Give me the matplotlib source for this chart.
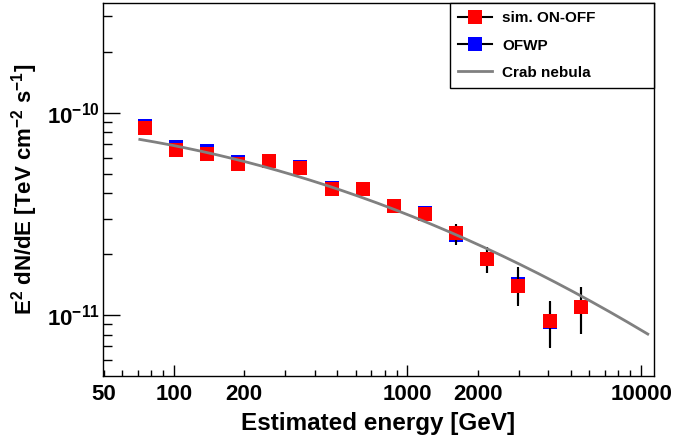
import numpy as np
import matplotlib
matplotlib.use("Agg")
import matplotlib.pyplot as plt
from matplotlib.ticker import FixedLocator, FuncFormatter, NullFormatter
from matplotlib.lines import Line2D

plt.rcParams['font.family'] = ['Liberation Sans', 'DejaVu Sans']
plt.rcParams['font.weight'] = 'bold'
plt.rcParams['mathtext.fontset'] = 'custom'
plt.rcParams['mathtext.rm'] = 'Liberation Sans:bold'
plt.rcParams['mathtext.bf'] = 'Liberation Sans:bold'
plt.rcParams['mathtext.it'] = 'Liberation Sans:bold:italic'
plt.rcParams['mathtext.default'] = 'rm'

# ---- data ----
energy = [75.0, 101.9, 138.5, 188.4, 256.1, 348.0, 473.2, 643.3, 874.3,
          1188.5, 1615.6, 2196.0, 2985.0, 4057.0, 5515.0]  # GeV

sim_onoff = [8.42e-11, 6.58e-11, 6.23e-11, 5.60e-11, 5.75e-11, 5.31e-11,
             4.20e-11, 4.21e-11, 3.46e-11, 3.16e-11, 2.54e-11, 1.89e-11,
             1.395e-11, 9.36e-12, 1.094e-11]
sim_onoff_err = [0.6e-11, 0.4e-11, 0.35e-11, 0.3e-11, 0.3e-11, 0.3e-11,
                 0.23e-11, 0.25e-11, 0.23e-11, 0.24e-11, 0.28e-11, 0.27e-11,
                 0.28e-11, 0.24e-11, 0.29e-11]

ofwp = [8.58e-11, 6.80e-11, 6.45e-11, 5.69e-11, 5.77e-11, 5.37e-11,
        4.25e-11, 4.21e-11, 3.48e-11, 3.19e-11, 2.50e-11, 1.89e-11,
        1.43e-11, 9.25e-12, 1.094e-11]
ofwp_err = [0.6e-11, 0.4e-11, 0.35e-11, 0.3e-11, 0.3e-11, 0.3e-11,
            0.23e-11, 0.25e-11, 0.23e-11, 0.24e-11, 0.28e-11, 0.27e-11,
            0.29e-11, 0.24e-11, 0.29e-11]

# Crab nebula reference spectrum (log-parabola in E^2 dN/dE, pivot 1 TeV)
crab_log_norm = -10.503
crab_index = -0.456
crab_curvature = -0.115
crab_emin, crab_emax = 71.5, 10680.0  # GeV

x_tick_labels = ['50', '100', '200', '1000', '2000', '10000']

# ---- figure ----
fig = plt.figure(figsize=(6.76, 4.38), dpi=100)
ax = fig.add_axes([102.5 / 676, 1 - 375.5 / 438, 551 / 676, 372.5 / 438])

ax.set_xscale('log')
ax.set_yscale('log')
ax.set_xlim(49.5, 11300)
ax.set_ylim(5.03e-12, 3.49e-10)

# Crab curve
ec = np.logspace(np.log10(crab_emin), np.log10(crab_emax), 200)
L = np.log10(ec / 1000.0)
crab = 10 ** (crab_log_norm + crab_index * L + crab_curvature * L ** 2)

msize = 10.3
ax.errorbar(energy, ofwp, yerr=ofwp_err, fmt='s', color='blue',
            markersize=msize, markeredgewidth=0, ecolor='black',
            elinewidth=1.5, capsize=0, zorder=2)
ax.errorbar(energy, sim_onoff, yerr=sim_onoff_err, fmt='s', color='red',
            markersize=msize, markeredgewidth=0, ecolor='black',
            elinewidth=1.5, capsize=0, zorder=3)
ax.plot(ec, crab, color='#808080', lw=2.0, zorder=4)

# ticks
ax.xaxis.set_major_locator(FixedLocator([100, 1000, 10000]))
minor_x = [50, 60, 70, 80, 90, 200, 300, 400, 500, 600, 700, 800, 900,
           2000, 3000, 4000, 5000, 6000, 7000, 8000, 9000]
ax.xaxis.set_minor_locator(FixedLocator(minor_x))
ax.xaxis.set_major_formatter(FuncFormatter(lambda v, p: '%d' % round(v)))
ax.xaxis.set_minor_formatter(FuncFormatter(
    lambda v, p: ('%d' % round(v)) if ('%d' % round(v)) in x_tick_labels else ''))

ax.yaxis.set_major_locator(FixedLocator([1e-11, 1e-10]))
ax.yaxis.set_major_formatter(FuncFormatter(
    lambda v, p: r'$10^{%d}$' % round(np.log10(v))))
minor_y = [6e-12, 7e-12, 8e-12, 9e-12, 2e-11, 3e-11, 4e-11, 5e-11, 6e-11,
           7e-11, 8e-11, 9e-11, 2e-10, 3e-10]
ax.yaxis.set_minor_locator(FixedLocator(minor_y))
ax.yaxis.set_minor_formatter(NullFormatter())

ax.tick_params(axis='x', which='both', direction='in', top=False,
               labelsize=16, pad=6)
ax.tick_params(axis='x', which='major', length=8, width=1)
ax.tick_params(axis='x', which='minor', length=4.3, width=1)
ax.tick_params(axis='y', which='both', direction='in', right=False,
               labelsize=16, pad=2)
ax.tick_params(axis='y', which='major', length=12, width=1)
ax.tick_params(axis='y', which='minor', length=6.5, width=1)

for s in ax.spines.values():
    s.set_linewidth(1.0)

ax.set_xlabel('Estimated energy [GeV]', fontsize=17.5, fontweight='bold',
              labelpad=5)
ax.set_ylabel(r'E$^{2}$ dN/dE [TeV cm$^{-2}$ s$^{-1}$]', fontsize=16,
              fontweight='bold', labelpad=5)

handles = [
    Line2D([], [], color='black', lw=1.5, marker='s', markersize=msize,
           markerfacecolor='red', markeredgewidth=0),
    Line2D([], [], color='black', lw=1.5, marker='s', markersize=msize,
           markerfacecolor='blue', markeredgewidth=0),
    Line2D([], [], color='#808080', lw=2.0),
]
labels = ['sim. ON-OFF', 'OFWP', 'Crab nebula']
leg = ax.legend(handles, labels, loc='upper left',
                bbox_to_anchor=(0.6307, 0.777, 0.3693, 0.223), mode='expand',
                borderaxespad=0, frameon=True, fancybox=False,
                edgecolor='black', framealpha=1, borderpad=0.55,
                labelspacing=0.86, handlelength=2.22, handletextpad=0.63,
                prop={'weight': 'bold', 'size': 11})
leg.get_frame().set_linewidth(1.0)

fig.savefig('out.png', dpi=100)
